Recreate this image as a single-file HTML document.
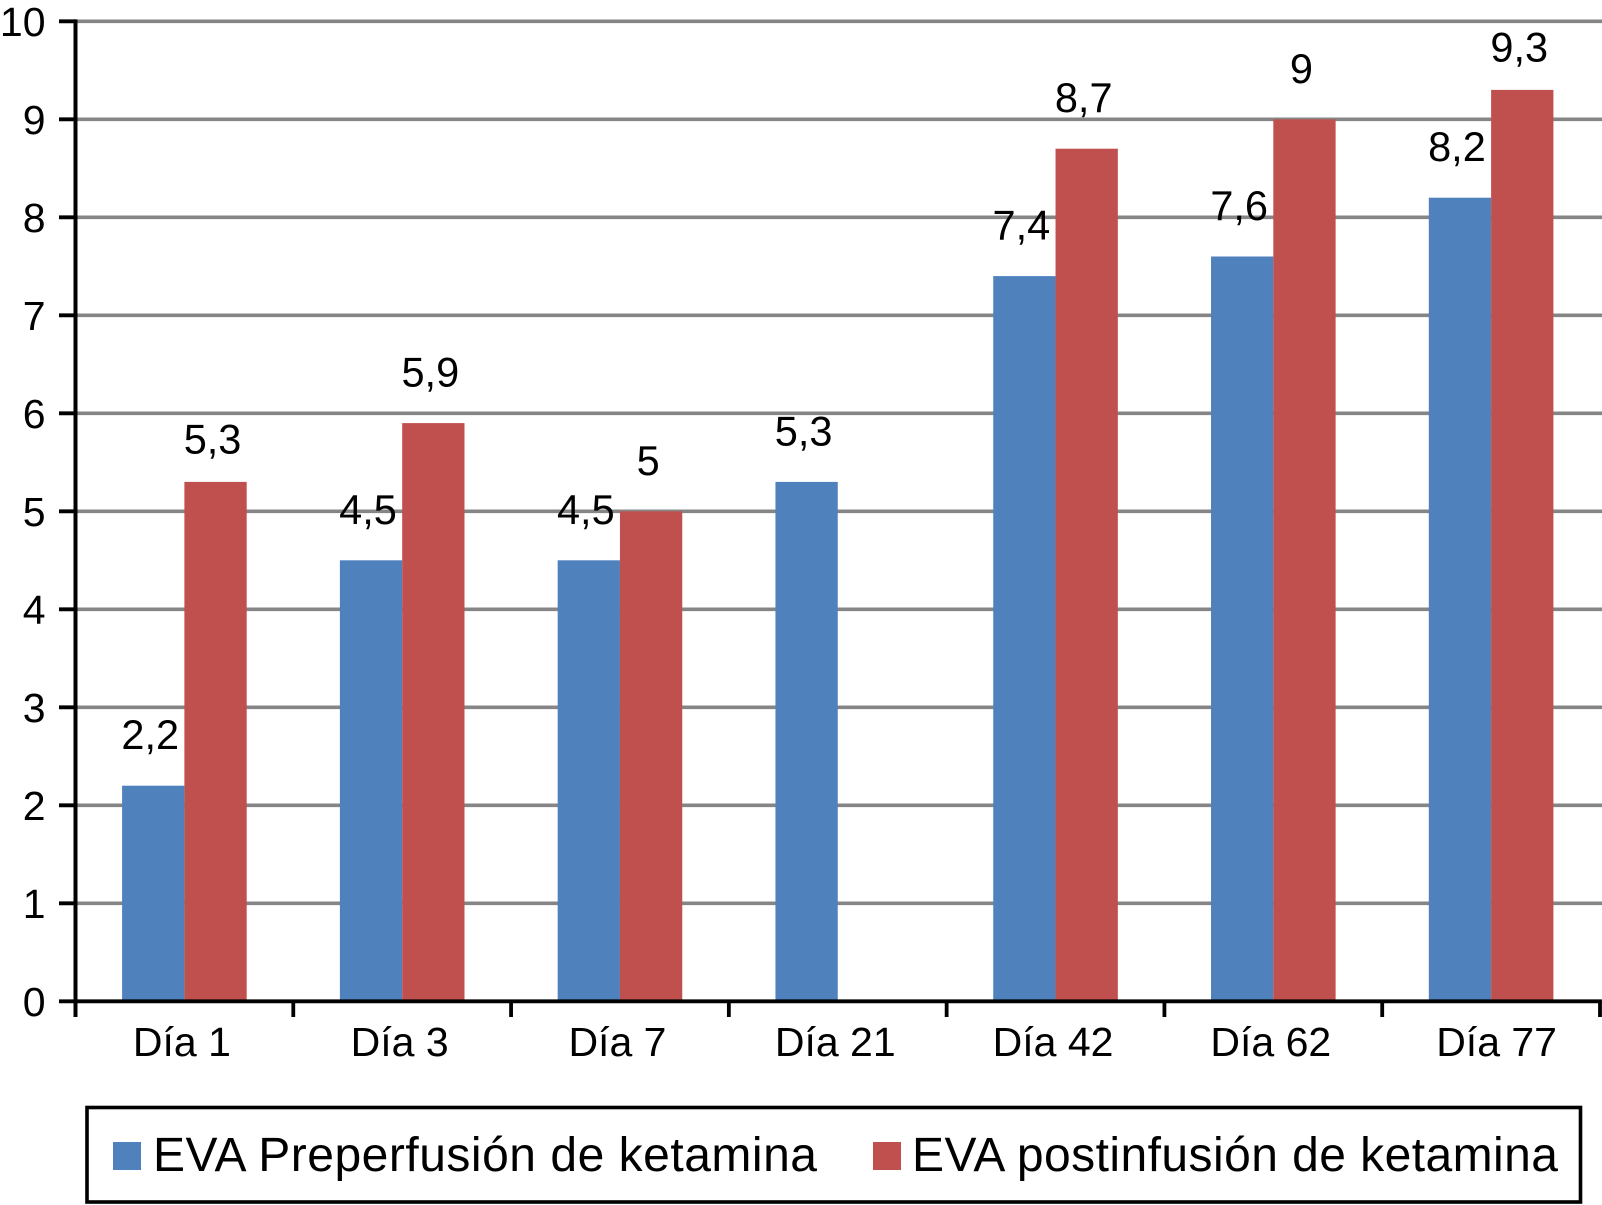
<!DOCTYPE html>
<html lang="es">
<head>
<meta charset="utf-8">
<title>EVA preperfusión y postinfusión de ketamina</title>
<style>
html,body{margin:0;padding:0;background:#fff;}
svg{display:block;font-family:"Liberation Sans",Arial,sans-serif;fill:#000;}
</style>
</head>
<body>
<svg id="chart" xmlns="http://www.w3.org/2000/svg" width="1602" height="1205" viewBox="0 0 1602 1205">
<rect x="0" y="0" width="1602" height="1205" fill="#ffffff"/>
<g id="grid"></g>
<g id="bars"></g>
<g id="axes"></g>
<g id="labels"></g>
<g>
<rect x="87" y="1107.5" width="1493.5" height="94.5" fill="none" stroke="#000" stroke-width="3.6"/>
<rect x="113" y="1142" width="28" height="28" fill="#4f81bd"/>
<text x="153" y="1171" font-size="48" textLength="664" lengthAdjust="spacing">EVA Preperfusión de ketamina</text>
<rect x="873" y="1142" width="28" height="28" fill="#c0504d"/>
<text x="912" y="1171" font-size="48" textLength="646" lengthAdjust="spacing">EVA postinfusión de ketamina</text>
</g>
</svg>
<script>
const categories = ["Día 1", "Día 3", "Día 7", "Día 21", "Día 42", "Día 62", "Día 77"];
const preperfusion = [2.2, 4.5, 4.5, 5.3, 7.4, 7.6, 8.2];
const postinfusion = [5.3, 5.9, 5, null, 8.7, 9, 9.3];
const yTicks = [0, 1, 2, 3, 4, 5, 6, 7, 8, 9, 10];

const NS = "http://www.w3.org/2000/svg";
const xLeft = 75.5, xRight = 1600, yZero = 1001.3, yTop = 21.3, yMax = 10;
const barW = 62.3;
function yScale(v) { return yZero - (v / yMax) * (yZero - yTop); }
function bandWidth() { return (xRight - xLeft) / categories.length; }
function xBand(i) { return xLeft + i * bandWidth(); }
function xCenter(i) { return xBand(i) + bandWidth() / 2; }
function make(tag, attrs, parent, text) {
  const el = document.createElementNS(NS, tag);
  for (const k in attrs) el.setAttribute(k, attrs[k]);
  if (text !== undefined) el.textContent = text;
  parent.appendChild(el);
  return el;
}
function label(v) { return String(v).replace(".", ","); }
/* manual label placement quirks of the original chart */
function categoryShift(i) { return i === categories.length - 1 ? 6.5 : -1.5; }
function dataLabelShift(seriesName, i) {
  if (seriesName === "postinfusion" && (i === 0 || i === categories.length - 1)) return 6;
  return -2;
}

const grid = document.getElementById("grid");
const axes = document.getElementById("axes");
const bars = document.getElementById("bars");
const labels = document.getElementById("labels");

yTicks.forEach(function (t) {
  if (t !== 0) {
    const g = make("line", { x1: xLeft, x2: 1602, y1: yScale(t), y2: yScale(t), stroke: "#858585", "stroke-width": 3.6 }, grid);
    
    
  }
  const tick = make("line", { x1: 59, x2: xLeft, y1: yScale(t), y2: yScale(t), stroke: "#000", "stroke-width": 3.8 }, axes);
  
  
  const tl = make("text", { x: 45.5, y: yScale(t) + 14.7, "text-anchor": "end", "font-size": 41 }, axes, String(t));
  
  
});

function drawSeries(values, offset, color, seriesName) {
  values.forEach(function (v, i) {
    if (v === null) return;
    const cx = xCenter(i);
    const x = offset < 0 ? cx - barW : cx;
    const r = make("rect", { x: x, y: yScale(v), width: barW, height: yZero - yScale(v), fill: color }, bars);
    
    
    const t = make("text", { x: x + barW / 2 - 3, y: yScale(v) - 34.5 + dataLabelShift(seriesName, i), "text-anchor": "middle", "font-size": 41.5 }, labels, label(v));
    
    
  });
}
drawSeries(preperfusion, -1, "#4f81bd", "preperfusion");
drawSeries(postinfusion, 1, "#c0504d", "postinfusion");

const yAxis = make("line", { x1: xLeft, x2: xLeft, y1: yTop - 1.9, y2: 1017, stroke: "#000", "stroke-width": 4 }, axes);


const xAxis = make("line", { x1: xLeft, x2: xRight + 1.9, y1: yZero, y2: yZero, stroke: "#000", "stroke-width": 3.8 }, axes);



for (let i = 1; i <= categories.length; i++) {
  const xt = make("line", { x1: xBand(i), x2: xBand(i), y1: yZero, y2: 1017, stroke: "#000", "stroke-width": 3.8 }, axes);
  
  
}
categories.forEach(function (c, i) {
  const cl = make("text", { x: xCenter(i) - 1 + categoryShift(i), y: 1056, "text-anchor": "middle", "font-size": 41 }, axes, c);
  
  
});
</script>
</body>
</html>
